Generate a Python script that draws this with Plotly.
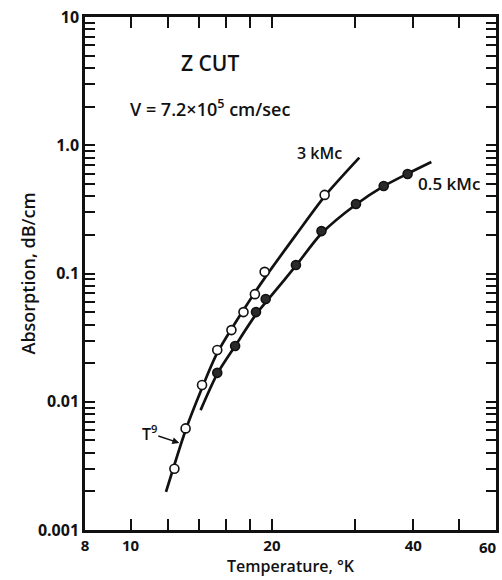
import plotly.graph_objects as go

# ---- data ----
t_3kmc = [12.4, 13.1, 14.2, 15.3, 16.4, 17.4, 18.4, 19.3, 25.9]
a_3kmc = [0.0030, 0.0062, 0.0135, 0.0253, 0.0362, 0.050, 0.069, 0.103, 0.41]

t_05kmc = [15.3, 16.7, 18.5, 19.4, 22.5, 25.5, 30.2, 34.6, 38.9]
a_05kmc = [0.0168, 0.0272, 0.050, 0.0633, 0.1165, 0.214, 0.348, 0.481, 0.597]

# smooth curves drawn through the data (vertices)
curve_3kmc_t = [11.9, 13.1, 14.2, 15.3, 17.4, 19.3, 22.5, 25.9, 30.7]
curve_3kmc_a = [0.00198, 0.0060, 0.0128, 0.0240, 0.052, 0.092, 0.20, 0.40, 0.80]

curve_05kmc_t = [14.1, 15.3, 16.7, 18.5, 20.0, 22.5, 25.5, 30.2, 34.6, 38.9, 43.7]
curve_05kmc_a = [0.0086, 0.0165, 0.0272, 0.048, 0.068, 0.115, 0.205, 0.345, 0.48, 0.60, 0.74]

x_tick_vals = [8, 10, 20, 40]
x_tick_text = ["8", "10", "20", "40"]
x_edge_label = "60"  # right-edge label, partly clipped in the reference
x_minor_vals = [12, 14, 16, 18, 30, 50]

y_tick_vals = [0.001, 0.01, 0.1, 1, 10]
y_tick_text = ["0.001", "0.01", "0.1", "1.0", "10"]
y_minor_vals = [k * 10.0 ** n for n in range(-3, 1) for k in range(2, 10)]

FONT = "Open Sans"
INK = "#111111"

fig = go.Figure()

fig.add_trace(go.Scatter(x=curve_3kmc_t, y=curve_3kmc_a, mode="lines",
                         line=dict(color=INK, width=2.7, shape="spline", smoothing=0.8),
                         showlegend=False, hoverinfo="skip"))
fig.add_trace(go.Scatter(x=curve_05kmc_t, y=curve_05kmc_a, mode="lines",
                         line=dict(color=INK, width=2.7, shape="spline", smoothing=0.8),
                         showlegend=False, hoverinfo="skip"))
fig.add_trace(go.Scatter(x=t_3kmc, y=a_3kmc, mode="markers", name="3 kMc",
                         marker=dict(symbol="circle", size=9, color="white",
                                     line=dict(color=INK, width=1.6)),
                         showlegend=False))
fig.add_trace(go.Scatter(x=t_05kmc, y=a_05kmc, mode="markers", name="0.5 kMc",
                         marker=dict(symbol="circle", size=9, color="#2a2a2a",
                                     line=dict(color=INK, width=1.6)),
                         showlegend=False))

axis_common = dict(showgrid=False, zeroline=False, showline=True, linewidth=2.5,
                   linecolor=INK, ticks="inside", tickcolor=INK, tickwidth=1.6,
                   mirror="ticks")

fig.update_xaxes(type="log", range=[0.90309, 1.77815],
                 tickmode="array", tickvals=x_tick_vals, ticktext=x_tick_text,
                 ticklen=11,
                 tickfont=dict(family=FONT, size=15, color=INK, weight=700),
                 minor=dict(tickmode="array", tickvals=x_minor_vals, ticks="inside",
                            ticklen=11, tickwidth=1.6, tickcolor=INK),
                 **axis_common)
fig.update_yaxes(type="log", range=[-3, 1],
                 tickmode="array", tickvals=y_tick_vals, ticktext=y_tick_text,
                 ticklen=10,
                 tickfont=dict(family=FONT, size=16, color=INK, weight=700),
                 minor=dict(tickmode="array", tickvals=y_minor_vals, ticks="inside",
                            ticklen=10, tickwidth=1.6, tickcolor=INK),
                 **axis_common)

ann_font = dict(family=FONT, color=INK, weight=600)
annotations = [
    dict(text="Z CUT", x=0.304, y=0.910, font=dict(size=21, **ann_font)),
    dict(text="V = 7.2×10<sup>5</sup> cm/sec", x=0.304, y=0.8226,
         font=dict(size=18, **ann_font)),
    dict(text="3 kMc", x=0.570, y=0.735, font=dict(size=16, **ann_font)),
    dict(text="0.5 kMc", x=0.886, y=0.676, font=dict(size=17, **ann_font)),
    dict(text="Absorption, dB/cm", x=0, y=0.5, xshift=-58, textangle=-90,
         font=dict(size=18, **ann_font)),
]
for a in annotations:
    a.update(xref="paper", yref="paper", showarrow=False,
             xanchor="center", yanchor="middle")

annotations.append(dict(text=x_edge_label, xref="paper", yref="paper",
                        x=1, y=0, xshift=3, yshift=-5, showarrow=False,
                        xanchor="right", yanchor="top",
                        font=dict(family=FONT, size=15, color=INK, weight=700)))
annotations.append(dict(text="Temperature, °K", xref="paper", yref="paper",
                        x=0.5, y=0, yshift=-49, showarrow=False,
                        xanchor="center", yanchor="bottom",
                        font=dict(size=16, **ann_font)))
annotations.append(dict(text="T<sup>9</sup>", xref="paper", yref="paper",
                        x=0.2295, y=0.1696, ax=-30, ay=-10, showarrow=True,
                        arrowhead=2, arrowsize=1, arrowwidth=1.4, arrowcolor=INK,
                        font=dict(size=16, **ann_font)))

fig.update_layout(width=502, height=580,
                  margin=dict(l=85, r=3, t=17, b=50),
                  paper_bgcolor="white", plot_bgcolor="white",
                  annotations=annotations, showlegend=False)

fig.write_html("out.html")
